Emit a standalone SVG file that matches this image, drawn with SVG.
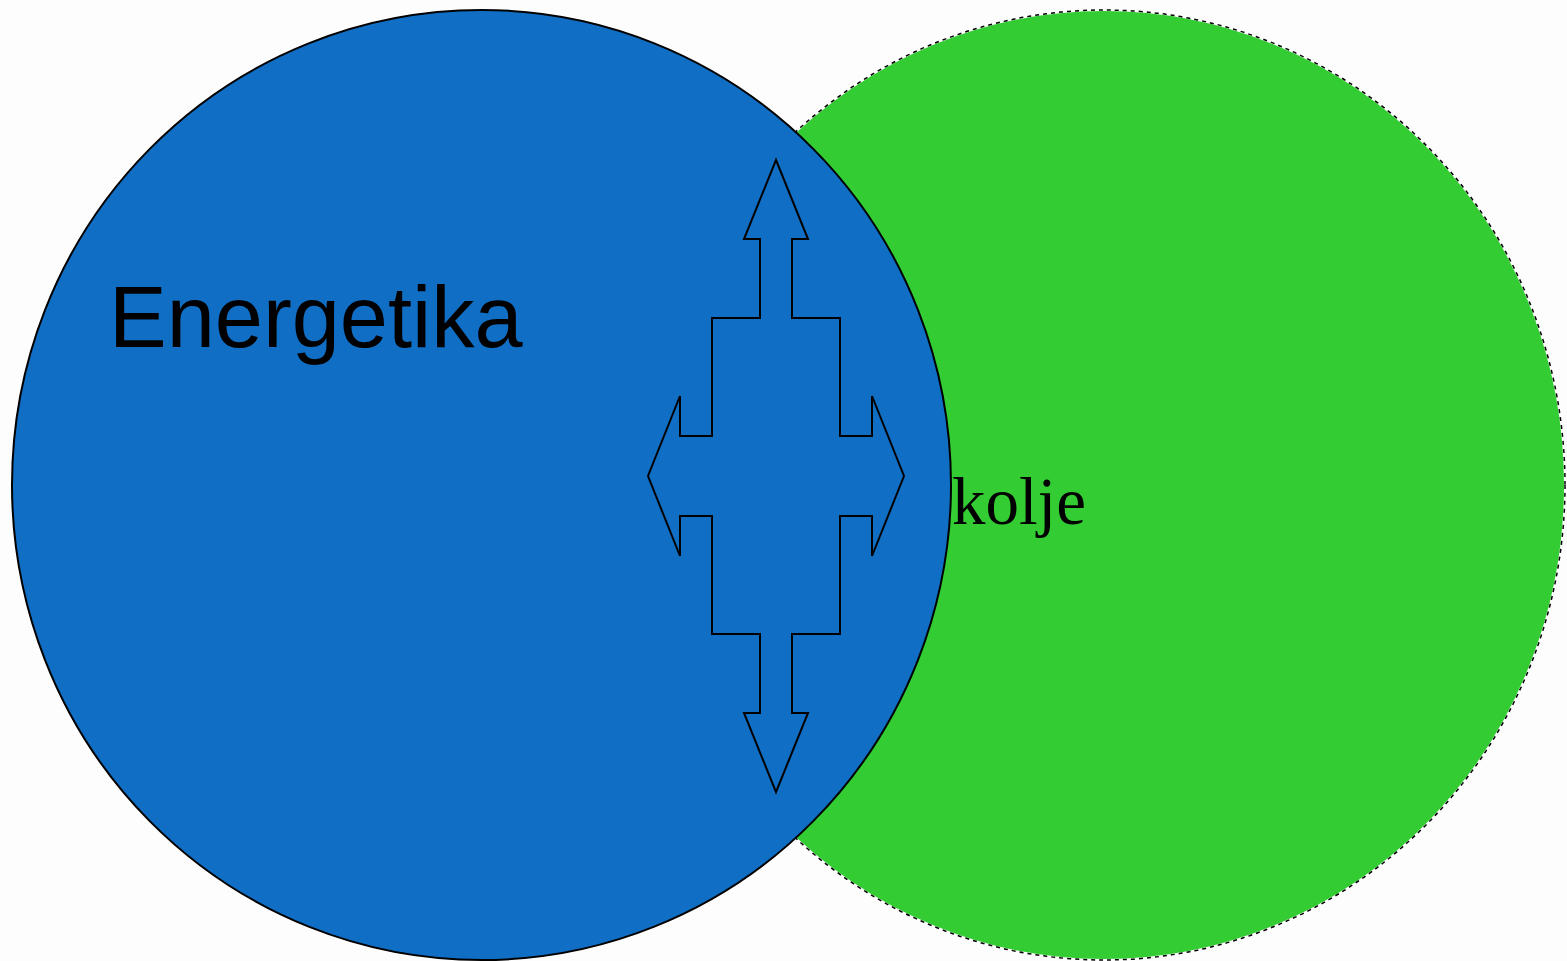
<svg xmlns="http://www.w3.org/2000/svg" width="1567" height="961" viewBox="0 0 1567 961">
  <style>
    .lbl { fill: #000; }
    .sans { font-family: "Liberation Sans", Arial, sans-serif; }
    .serif { font-family: "Liberation Serif", "Times New Roman", serif; }
  </style>
  <rect x="0" y="0" width="1567" height="961" fill="#fdfdfd"/>
  <g id="okolje">
    <ellipse cx="1104" cy="485" rx="461" ry="475" fill="#33cc33" stroke="#ffffff" stroke-width="2"/>
    <ellipse cx="1104" cy="485" rx="461" ry="475" fill="none" stroke="#000" stroke-width="1.5" stroke-dasharray="4,4"/>
    <text class="lbl serif" x="952" y="524" font-size="67">kolje</text>
  </g>
  <g id="energetika">
    <ellipse cx="481.5" cy="485" rx="469.5" ry="475" fill="#106ec4" stroke="#000" stroke-width="2"/>
    <text class="lbl sans" x="109" y="347" font-size="86.5">Energetika</text>
  </g>
  <g id="connectors">
    <path d="M776,160 L808,239 L792,239 L792,318 L840,318 L840,436 L872,436 L872,396 L904,476 L872,556 L872,516 L840,516 L840,634 L792,634 L792,713 L808,713 L776,792 L744,713 L760,713 L760,634 L712,634 L712,516 L680,516 L680,556 L648,476 L680,396 L680,436 L712,436 L712,318 L760,318 L760,239 L744,239 Z" fill="#106ec4" stroke="#000" stroke-width="2" stroke-linejoin="miter"/>
  </g>
</svg>
